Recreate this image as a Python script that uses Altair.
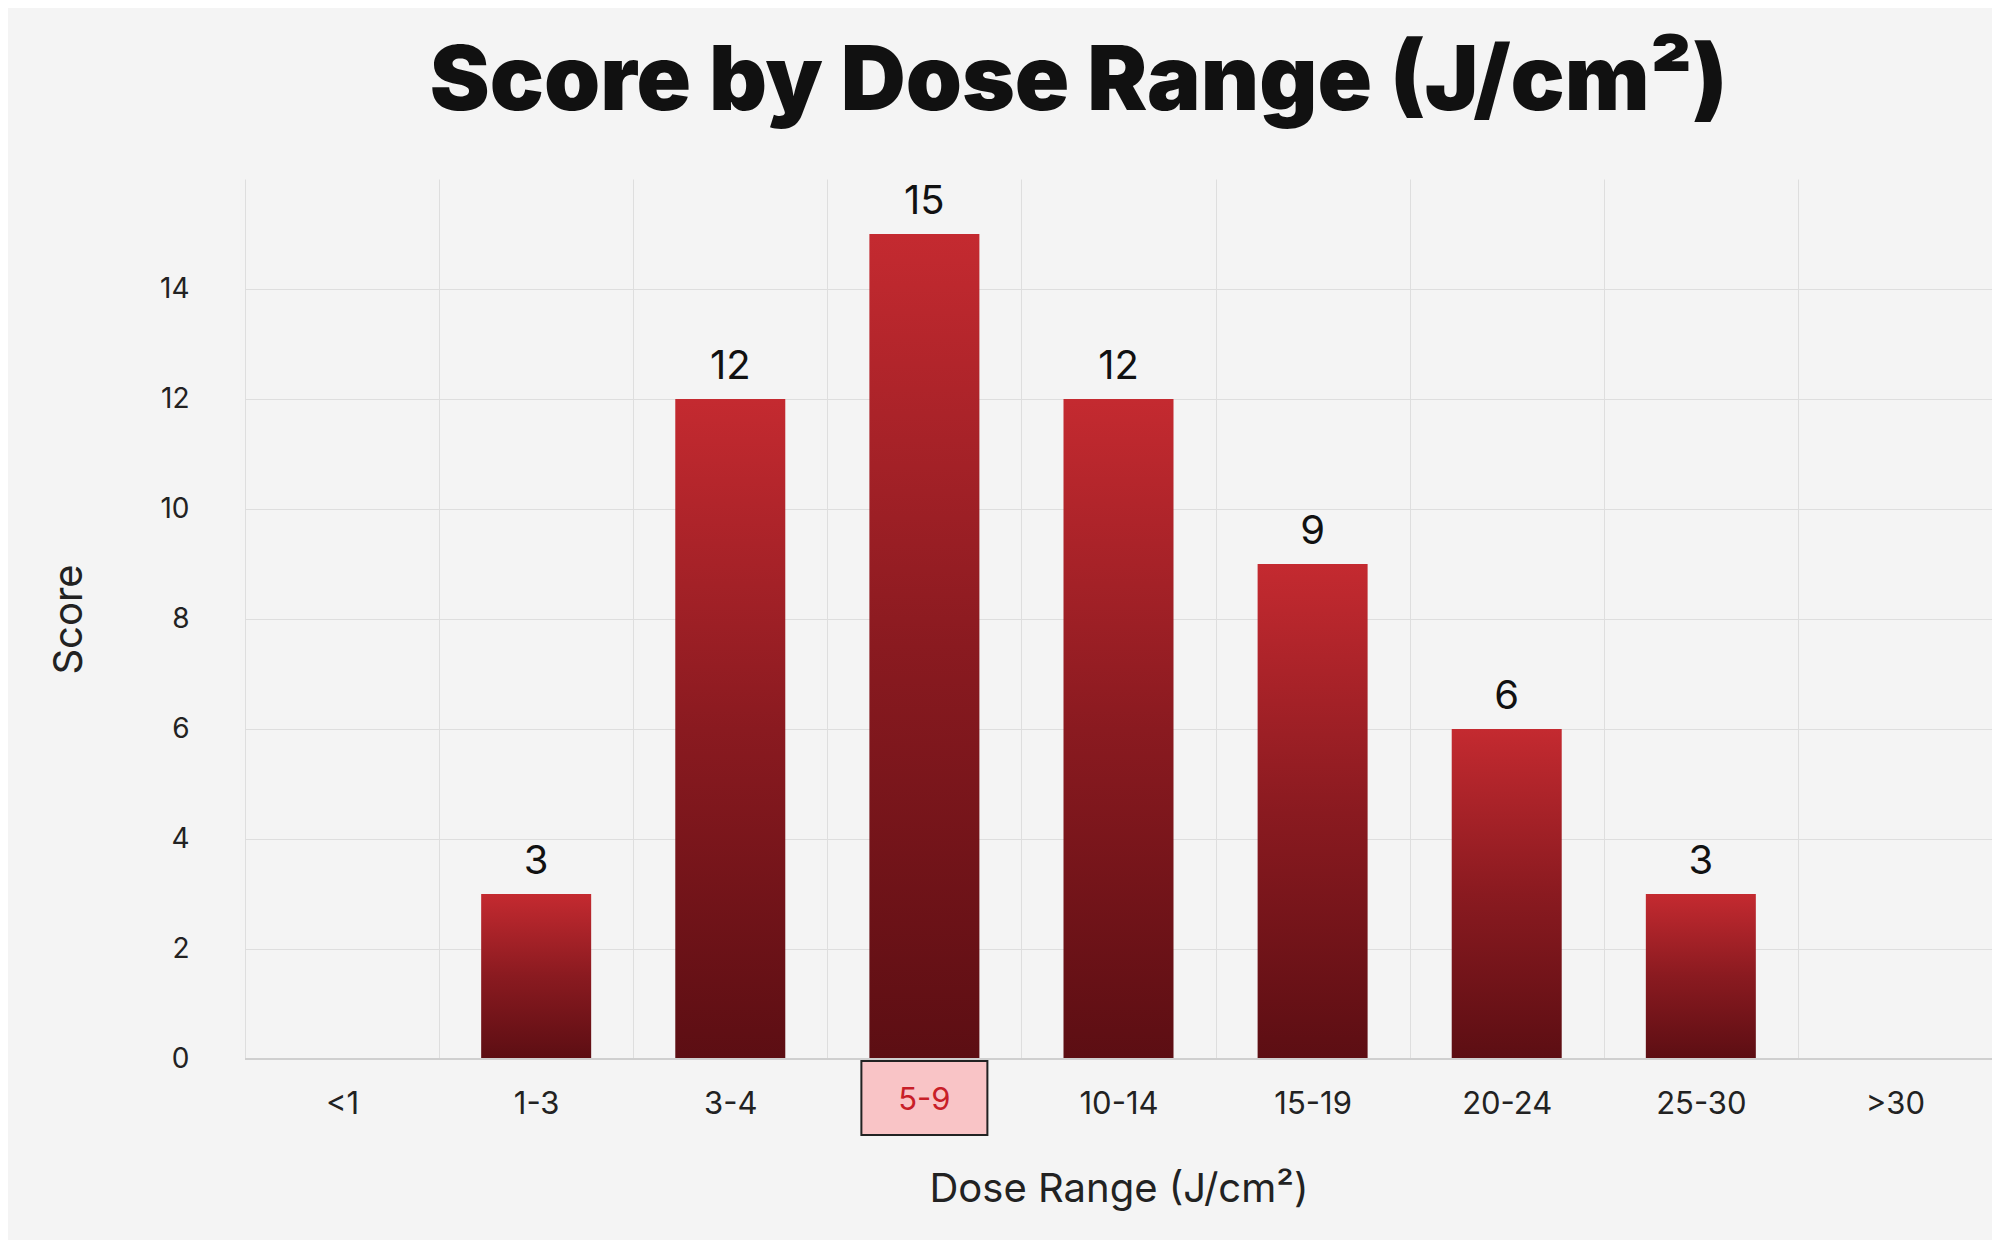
import altair as alt
import pandas as pd

ranges = ["<1", "1-3", "3-4", "5-9", "10-14", "15-19", "20-24", "25-30", ">30"]
scores = [None, 3, 12, 15, 12, 9, 6, 3, None]
highlight = ["5-9"]

df = pd.DataFrame({"range": ranges, "score": scores})
hl = pd.DataFrame({"range": highlight})

W, H = 1747, 880

x = alt.X("range:N", sort=ranges, scale=alt.Scale(paddingInner=0, paddingOuter=0),
          axis=alt.Axis(title="Dose Range (J/cm²)", labelAngle=0, tickBand="extent",
                        grid=True, gridColor="#dedede", ticks=False, domain=False,
                        labelFontSize=31, labelColor="#222",
                        labelExpr="datum.value == '5-9' ? '' : datum.value",
                        labelPadding=30, titleFontSize=40, titleFontWeight="normal",
                        titlePadding=50, titleColor="#222", labelFont="Inter", titleFont="Inter"))
y = alt.Y("score:Q", scale=alt.Scale(domain=[0, 16], nice=False),
          axis=alt.Axis(title="Score", values=[0, 2, 4, 6, 8, 10, 12, 14], gridColor="#dedede",
                        ticks=False, domain=False, labelFontSize=28, labelPadding=56,
                        labelColor="#222", titleFontSize=40, titleFontWeight="normal",
                        titlePadding=70, titleColor="#222", labelFont="Inter", titleFont="Inter"))

grad = alt.Gradient(gradient="linear", x1=0, x2=0, y1=0, y2=1,
                    stops=[alt.GradientStop(color="#c42a30", offset=0),
                           alt.GradientStop(color="#8a1a20", offset=0.5),
                           alt.GradientStop(color="#5c0e13", offset=1)])

base = alt.Chart(df)
bars = base.mark_bar(size=110, color=grad).encode(x=x, y=y)
labels = base.mark_text(dy=-32, fontSize=40, font="Inter", color="#111").encode(
    x=alt.X("range:N", sort=ranges), y="score:Q", text="score:Q")
box = alt.Chart(hl).mark_bar(size=126, color="#f9c4c6", stroke="#222", strokeWidth=2, clip=False).encode(
    x=alt.X("range:N", sort=ranges), y=alt.value(H + 2), y2=alt.value(H + 76))
boxtext = alt.Chart(hl).mark_text(fontSize=31, font="Inter", color="#c81e28").encode(
    x=alt.X("range:N", sort=ranges), y=alt.value(H + 42), text="range:N")
axisline = alt.Chart(hl).mark_rule(color="#cfcfcf", strokeWidth=2).encode(
    x=alt.value(0), x2=alt.value(W), y=alt.value(H))

chart = alt.layer(bars, axisline, box, boxtext, labels).properties(
    width=W, height=H,
    title=alt.Title("Score by Dose Range (J/cm²)", fontSize=90, font="Inter", fontWeight=900,
                    color="#111", anchor="middle", offset=50, dx=-40),
    autosize=alt.AutoSizeParams(type="none"),
    padding={"left": 237, "top": 171, "right": 0, "bottom": 200},
    background="#f4f4f4",
).configure_view(stroke=None)

chart.save("out.html", embed_options={"renderer": "svg", "actions": False})
